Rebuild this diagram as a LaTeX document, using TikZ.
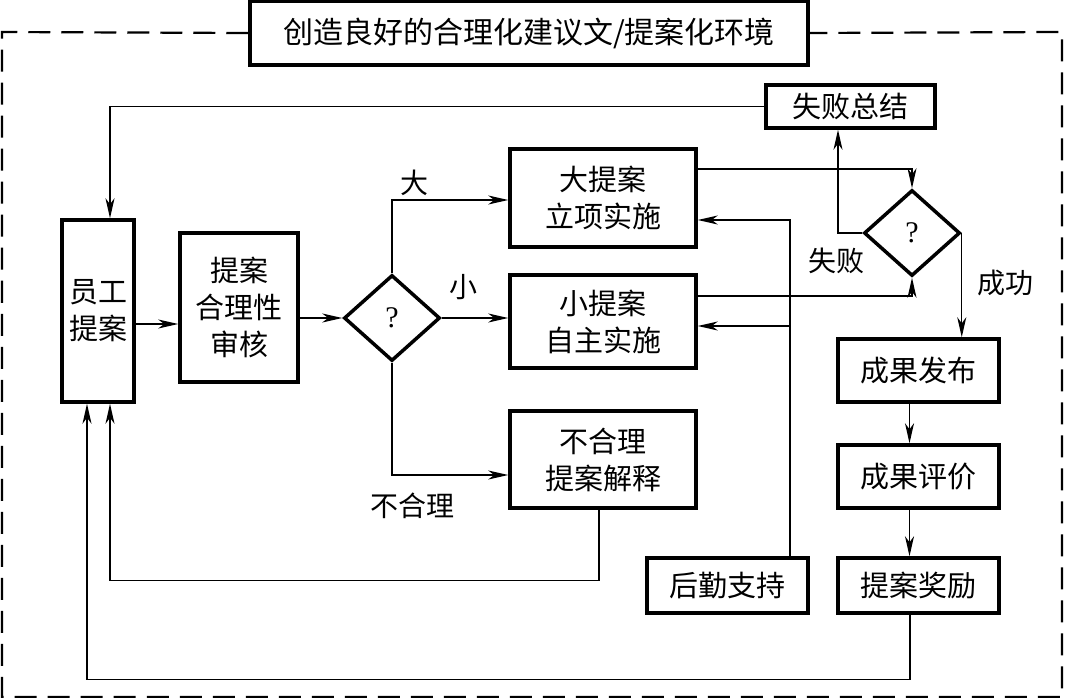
\documentclass[tikz,border=0pt]{standalone}
\usepackage{fontspec}
\setmainfont{Liberation Serif}
\newfontfamily\cjk{Noto Sans CJK SC}
\usetikzlibrary{arrows.meta,shapes.geometric}
\begin{document}
\begin{tikzpicture}[x=1pt,y=-1pt,
  box/.style={draw,line width=3.5pt,align=center,inner sep=0pt,
    font=\cjk\fontsize{29}{37}\selectfont},
  dec/.style={draw,diamond,line width=3.5pt,inner sep=0pt,
    minimum width=96pt,minimum height=86pt,font=\fontsize{30}{30}\selectfont},
  conn/.style={line width=1.4pt},
  arr/.style={conn,-{Stealth[length=20pt,width=9pt,inset=6pt]}},
  lab/.style={font=\cjk\fontsize{28}{34}\selectfont,inner sep=0pt},
  frame/.style={line width=2.2pt,dash pattern=on 22pt off 11pt}]
\useasboundingbox (0,0) rectangle (1073,698);

% nodes
\node[box,minimum width=558pt,minimum height=64pt,font=\cjk\fontsize{30}{36}\selectfont] (title) at (529,33) {创造良好的合理化建议文/提案化环境};
\node[box,minimum width=169pt,minimum height=43pt] (fail) at (850.5,106.5) {失败总结};
\node[box,minimum width=72pt,minimum height=182pt] (emp) at (98,311) {员工\\提案};
\node[box,minimum width=118pt,minimum height=149pt] (review) at (239,307.5) {提案\\合理性\\审核};
\node[dec] (d1) at (392,318) {?};
\node[box,minimum width=186pt,minimum height=98pt] (big) at (603,198) {大提案\\立项实施};
\node[box,minimum width=186pt,minimum height=93pt] (small) at (603,321.5) {小提案\\自主实施};
\node[box,minimum width=186pt,minimum height=97pt] (unr) at (603,459.5) {不合理\\提案解释};
\node[box,minimum width=161pt,minimum height=55pt] (logi) at (727.5,585.5) {后勤支持};
\node[dec] (d2) at (912,233) {?};
\node[box,minimum width=161pt,minimum height=63pt] (pub) at (918.5,370.5) {成果发布};
\node[box,minimum width=161pt,minimum height=63pt] (eval) at (918.5,476.5) {成果评价};
\node[box,minimum width=161pt,minimum height=55pt] (reward) at (918.5,585.5) {提案奖励};

% labels
\node[lab] (lbig) at (414,183) {大};
\node[lab] (lsmall) at (463,287) {小};
\node[lab] (lunr) at (412,506) {不合理};
\node[lab] (lfail) at (836,261) {失败};
\node[lab] (lsucc) at (1005,283) {成功};

% frame
\draw[frame] (title.west) -- (2,32) -- (2,697) -- (1062,697) -- (1062,32) -- (title.east);

% connectors
\draw[arr] (fail.west) -| ([xshift=12pt]emp.north);
\draw[arr] ([yshift=-13pt]emp.east) -- ([yshift=-13pt]emp.east -| review.west);
\draw[arr] (review.east |- d1.west) -- (d1.west);
\draw[arr] (d1.north) |- ([yshift=-2pt]big.west);
\draw[arr] (d1.east) -- (d1.east -| small.west);
\draw[arr] (d1.south) |- ([yshift=-15.5pt]unr.west);
\draw[arr] ([xshift=-4pt]unr.south) -- ++(0,71) -| ([xshift=12pt]emp.south);
\draw[arr] ([xshift=-8.5pt]reward.south) -- ++(0,65) -| ([xshift=-11pt]emp.south);
\coordinate (lg) at ([xshift=62.5pt]logi.north);
\draw[arr] (lg) |- ([yshift=-22pt]big.east);
\draw[arr] (lg) |- ([yshift=-4.5pt]small.east);
\draw[arr] ([yshift=29pt]big.east) -| (d2.north);
\draw[arr] ([yshift=25.5pt]small.east) -| (d2.south);
\draw[arr] (d2.west) -| ([xshift=-12.5pt]fail.south);
\draw[arr] (d2.east) -- (d2.east |- pub.north);
\draw[arr] ([xshift=-9pt]pub.south) -- ([xshift=-9pt]eval.north);
\draw[arr] ([xshift=-9pt]eval.south) -- ([xshift=-9pt]reward.north);
\end{tikzpicture}
\end{document}
